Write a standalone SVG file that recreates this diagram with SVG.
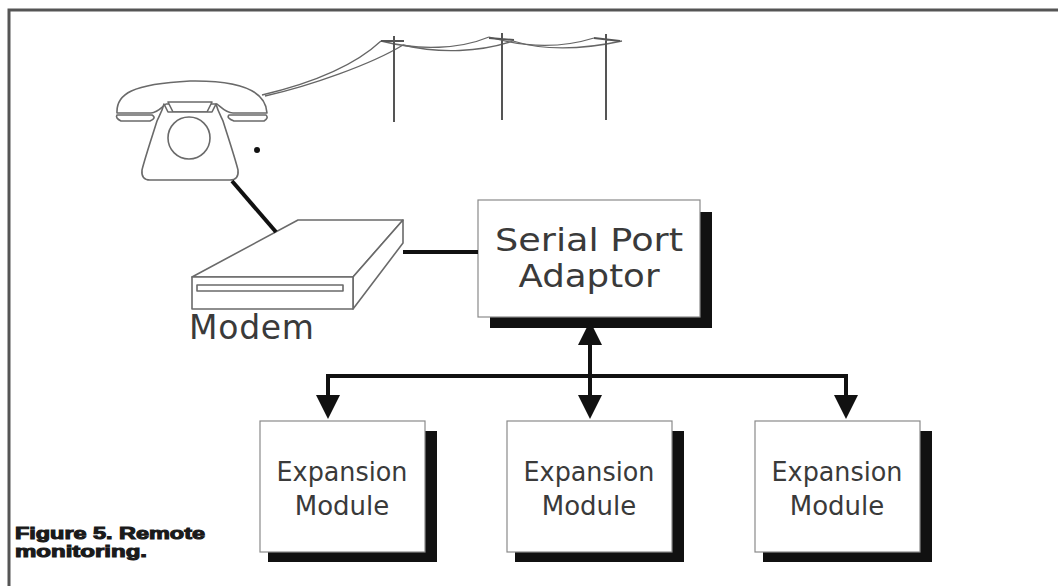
<svg xmlns="http://www.w3.org/2000/svg" width="1058" height="586" viewBox="0 0 1058 586">
  <style>
    .frame { stroke: #555; stroke-width: 3; fill: none; }
    .sketch { stroke: #6a6a6a; stroke-width: 1.6; fill: #fff; stroke-linejoin: round; }
    .wire { stroke: #666; stroke-width: 1.3; fill: none; }
    .pole { stroke: #555; stroke-width: 2; fill: none; }
    .box { fill: #fff; stroke: #8a8a8a; stroke-width: 1.2; }
    .shadow { fill: #111; }
    .label { font-family: "DejaVu Sans", "Liberation Sans", sans-serif; fill: #3a3a3a; text-anchor: middle; }
    .bus { stroke: #111; stroke-width: 4; fill: none; }
    .caption { font-family: "Liberation Sans", Arial, sans-serif; font-weight: bold; font-size: 16px; fill: #1a1a1a; stroke: #1a1a1a; stroke-width: 1; }
  </style>
  <defs>
    <marker id="arrow" viewBox="0 0 24 24" refX="0" refY="12" markerWidth="24" markerHeight="24" markerUnits="userSpaceOnUse" orient="auto-start-reverse">
      <path d="M0,0 L24,12 L0,24 Z" fill="#111"/>
    </marker>
  </defs>

  <rect width="1058" height="586" fill="#fff"/>

  <!-- page frame: top rule and left rule -->
  <path class="frame" d="M1058,10 L9,10 L9,586"/>

  <!-- telephone -->
  <g id="telephone">
    <path class="sketch" d="M117,113 C116,94 132,84 190,81 C248,80 266,94 267,113 L233,113 C226,113 222,108 217,104 L166,104 C161,108 157,113 151,113 Z"/>
    <path class="sketch" d="M117,115 L152,115 Q157,118 150,121 L121,121 Q115,118 117,115 Z"/>
    <path class="sketch" d="M229,115 L266,115 Q269,118 264,121 L234,121 Q226,118 229,115 Z"/>
    <path class="sketch" d="M168,102 L212,102 L207,112 L173,112 Z"/>
    <path class="sketch" d="M164,104 C162,112 158,118 157,121 C151,140 145,158 142,170 Q141,180 150,180 L230,180 Q239,180 238,170 C235,158 229,140 223,121 C222,118 218,112 216,104 L212,112 L168,112 Z"/>
    <circle class="sketch" cx="189" cy="138" r="21"/>
    <circle cx="257" cy="150" r="3" fill="#111"/>
  </g>

  <!-- telephone line and poles -->
  <g id="telephone-line">
    <path class="wire" d="M262,95 C300,86 350,70 381,41"/>
    <path class="wire" d="M265,96 C310,86 372,64 403,45"/>
    <path class="wire" d="M381,41 C420,51 460,49 489,37"/>
    <path class="wire" d="M403,45 C440,54 480,52 513,41"/>
    <path class="wire" d="M489,37 C530,49 565,47 594,38"/>
    <path class="wire" d="M513,41 C545,51 585,49 622,41"/>
    <path class="pole" d="M394,36 L394,122 M381,41 L404,41"/>
    <path class="pole" d="M502,33 L502,120 M489,38 L514,40"/>
    <path class="pole" d="M606,34 L606,120 M594,38 L620,41"/>
  </g>

  <!-- modem -->
  <g id="modem">
    <path class="sketch" d="M192,277 L298,220 L403,220 L353,277 Z"/>
    <path class="sketch" d="M353,277 L403,220 L403,243 L353,309 Z"/>
    <rect class="sketch" x="192" y="277" width="161" height="32"/>
    <rect class="sketch" x="197" y="285" width="146" height="6"/>
    <text class="label" x="189" y="339" font-size="33" style="text-anchor:start" textLength="125">Modem</text>
  </g>

  <!-- serial port adaptor -->
  <g id="serial-port-adaptor">
    <rect class="shadow" x="490" y="212" width="222" height="116"/>
    <rect class="box" x="478" y="200" width="222" height="117"/>
    <text class="label" x="589" y="251" font-size="32" textLength="188" lengthAdjust="spacingAndGlyphs">Serial Port</text>
    <text class="label" x="589" y="287" font-size="32" textLength="141" lengthAdjust="spacingAndGlyphs">Adaptor</text>
  </g>

  <!-- expansion modules -->
  <g id="module-1">
    <rect class="shadow" x="268" y="431" width="169" height="131"/>
    <rect class="box" x="260" y="421" width="165" height="131"/>
    <text class="label" x="342" y="481" font-size="26" textLength="131" lengthAdjust="spacingAndGlyphs">Expansion</text>
    <text class="label" x="342" y="515" font-size="26">Module</text>
  </g>
  <g id="module-2">
    <rect class="shadow" x="515" y="431" width="169" height="131"/>
    <rect class="box" x="507" y="421" width="165" height="131"/>
    <text class="label" x="589" y="481" font-size="26" textLength="131" lengthAdjust="spacingAndGlyphs">Expansion</text>
    <text class="label" x="589" y="515" font-size="26">Module</text>
  </g>
  <g id="module-3">
    <rect class="shadow" x="763" y="431" width="169" height="131"/>
    <rect class="box" x="755" y="421" width="165" height="131"/>
    <text class="label" x="837" y="481" font-size="26" textLength="131" lengthAdjust="spacingAndGlyphs">Expansion</text>
    <text class="label" x="837" y="515" font-size="26">Module</text>
  </g>

  <!-- connectors -->
  <g id="connectors">
    <line class="bus" x1="232" y1="181" x2="276" y2="232"/>
    <line class="bus" x1="403" y1="252" x2="478" y2="252"/>
    <path class="bus" d="M590,345 L590,395" marker-start="url(#arrow)" marker-end="url(#arrow)"/>
    <path class="bus" d="M328,395 L328,376 L846,376 L846,395" stroke-linejoin="miter"/>
    <path class="bus" d="M328,390 L328,395" marker-end="url(#arrow)"/>
    <path class="bus" d="M846,390 L846,395" marker-end="url(#arrow)"/>
  </g>

  <!-- caption -->
  <g id="caption">
    <text class="caption" x="15" y="539" textLength="190" lengthAdjust="spacingAndGlyphs">Figure 5. Remote</text>
    <text class="caption" x="15" y="557" textLength="132" lengthAdjust="spacingAndGlyphs">monitoring.</text>
  </g>
</svg>
